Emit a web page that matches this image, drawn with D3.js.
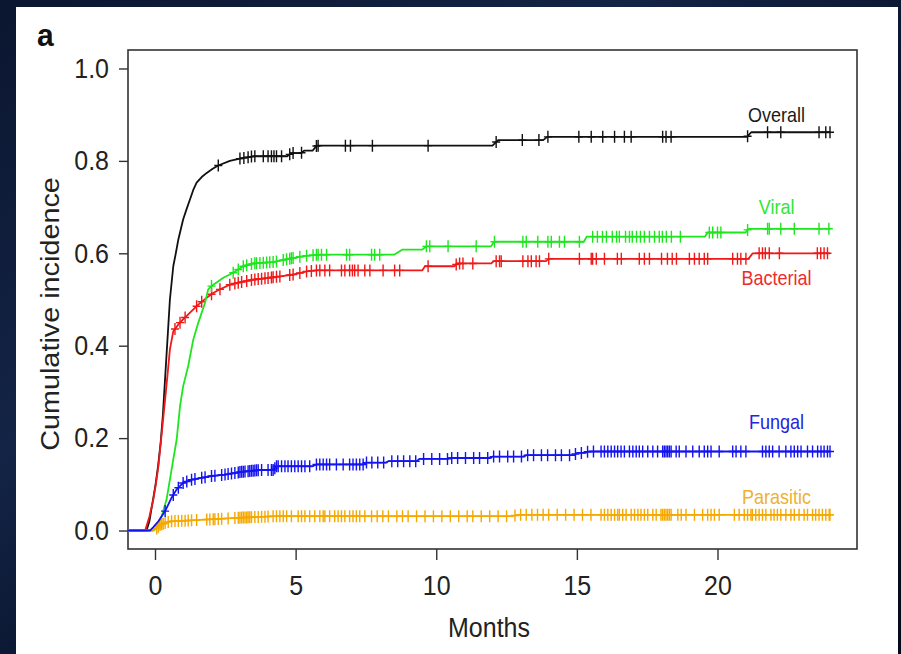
<!DOCTYPE html>
<html>
<head>
<meta charset="utf-8">
<script src="https://cdn.jsdelivr.net/npm/d3@7"></script>
<style>
  html, body { margin: 0; padding: 0; background: #061024; }
  svg { display: block; }
  text { font-family: "Liberation Sans", Arial, Helvetica, sans-serif; }
</style>
</head>
<body>
<svg id="chart" width="901" height="654"></svg>
<script>
// ---- Cumulative incidence by infection type: path vertices [months, cumulative incidence] ----
const seriesNames = ["Overall", "Viral", "Bacterial", "Fungal", "Parasitic"];

const overallCurve = [[-1,0],[-0.3,0],[-0.2,0.02],[-0.07,0.067],[0.02,0.10],[0.11,0.14],[0.2,0.19],[0.28,0.25],[0.37,0.34],[0.46,0.43],[0.53,0.5],[0.65,0.572],[0.74,0.60],[0.83,0.63],[1.0,0.673],[1.12,0.695],[1.24,0.716],[1.36,0.737],[1.48,0.753],[1.66,0.765],[1.84,0.774],[2.05,0.783],[2.25,0.79],[2.66,0.80],[3.02,0.805],[3.5,0.81],[4.7,0.81],[4.85,0.817],[5.2,0.817],[5.3,0.822],[5.6,0.822],[5.75,0.833],[12.0,0.833],[12.2,0.845],[13.8,0.845],[13.95,0.852],[21.05,0.852],[21.2,0.862],[24,0.862]];
const viralCurve = [[-1,0],[-0.05,0],[0.06,0.006],[0.24,0.031],[0.41,0.067],[0.53,0.11],[0.65,0.154],[0.77,0.197],[0.89,0.269],[1.0,0.312],[1.18,0.356],[1.36,0.413],[1.54,0.45],[1.78,0.493],[1.89,0.522],[2.01,0.529],[2.43,0.547],[2.78,0.558],[3.14,0.572],[3.49,0.578],[4.2,0.581],[4.68,0.587],[5.27,0.594],[5.8,0.597],[8.5,0.597],[8.8,0.608],[9.5,0.608],[9.65,0.615],[11.95,0.615],[12.05,0.625],[15.25,0.625],[15.35,0.636],[19.55,0.636],[19.65,0.645],[21.0,0.645],[21.1,0.653],[24,0.653]];
const bacterialCurve = [[-1,0],[-0.35,0],[-0.2,0.03],[-0.06,0.067],[0.03,0.10],[0.12,0.139],[0.24,0.211],[0.36,0.284],[0.45,0.34],[0.53,0.392],[0.65,0.431],[0.83,0.446],[1.0,0.457],[1.3,0.475],[1.54,0.489],[1.8,0.502],[2.07,0.514],[2.31,0.522],[2.66,0.532],[3.08,0.538],[3.49,0.543],[4.08,0.547],[4.91,0.554],[5.4,0.561],[5.74,0.563],[9.5,0.563],[9.6,0.572],[10.65,0.572],[10.75,0.578],[11.95,0.578],[12.05,0.583],[13.9,0.583],[14.0,0.588],[21.1,0.588],[21.25,0.6],[24,0.6]];
const fungalCurve = [[-1,0],[-0.18,0],[-0.05,0.008],[0.12,0.02],[0.36,0.042],[0.59,0.071],[0.77,0.089],[1.0,0.103],[1.3,0.110],[1.66,0.114],[2.01,0.118],[2.49,0.121],[3.08,0.127],[3.73,0.131],[4.2,0.131],[4.32,0.139],[5.6,0.139],[5.74,0.143],[7.4,0.143],[7.5,0.147],[8.2,0.147],[8.3,0.15],[9.3,0.15],[9.4,0.155],[10.4,0.155],[10.5,0.157],[11.9,0.157],[12.0,0.16],[13.1,0.16],[13.2,0.163],[14.9,0.163],[15.0,0.168],[15.3,0.168],[15.4,0.171],[24,0.171]];
const parasiticCurve = [[-1,0],[-0.1,0],[0.05,0.004],[0.2,0.013],[0.55,0.02],[1.3,0.022],[2.25,0.025],[3.1,0.028],[4.3,0.031],[12.7,0.031],[12.9,0.034],[24,0.034]];

// ---- Censoring times (months) ----
const overallCensor = [2.25,3.02,3.16,3.31,3.43,3.55,3.85,4.02,4.14,4.23,4.32,4.50,4.79,4.91,5.21,5.74,5.80,6.77,6.95,7.73,9.71,12.13,13.06,13.65,13.97,15.07,15.51,15.92,16.34,16.69,16.93,18.05,18.17,18.35,21.07,21.78,22.25,23.61,23.85,24.0];
const viralCensor = [2.01,2.78,2.96,3.14,3.26,3.43,3.55,3.61,3.73,3.85,3.97,4.08,4.20,4.32,4.56,4.68,4.79,4.85,4.91,5.15,5.39,5.62,5.74,5.80,5.92,6.10,6.81,6.92,7.70,7.81,7.99,9.65,9.77,10.42,11.42,12.07,13.08,13.20,13.61,13.97,14.09,14.38,14.56,15.09,15.56,15.73,15.91,16.05,16.26,16.41,16.51,16.73,16.87,16.97,17.12,17.26,17.40,17.58,17.76,17.93,18.04,18.18,18.36,18.68,19.71,19.83,20.00,20.12,21.07,21.78,21.84,22.25,22.73,23.61,23.96];
const bacterialCensor = [0.71,0.89,1.07,1.48,1.66,2.01,2.31,2.66,2.84,2.96,3.08,3.26,3.43,3.55,3.67,3.79,3.91,4.02,4.14,4.20,4.32,4.44,4.79,4.91,5.15,5.39,5.56,5.74,5.86,6.04,6.21,6.63,6.75,6.92,7.02,7.10,7.22,7.46,7.64,8.11,8.52,8.70,9.71,10.71,10.83,10.95,11.30,12.13,12.25,12.31,13.08,13.26,13.38,13.55,13.67,14.00,15.09,15.51,15.56,15.69,15.98,16.44,16.58,17.22,17.40,17.58,18.01,18.22,18.39,18.54,19.00,19.18,19.35,19.53,19.65,20.54,20.71,20.83,21.01,21.48,21.60,21.70,21.84,22.20,23.55,23.67,23.79,23.91];
const fungalCensor = [0.36,0.65,0.83,1.0,1.13,1.30,1.42,1.66,1.78,2.01,2.13,2.37,2.49,2.60,2.72,2.84,2.96,3.02,3.08,3.14,3.20,3.31,3.37,3.43,3.49,3.55,3.61,3.67,3.79,4.02,4.14,4.20,4.26,4.32,4.38,4.50,4.62,4.73,4.85,4.97,5.09,5.21,5.33,5.50,5.74,5.86,5.98,6.10,6.21,6.45,6.69,6.92,7.04,7.16,7.28,7.40,7.52,7.71,7.92,8.13,8.42,8.63,8.84,9.06,9.27,9.55,9.84,10.12,10.40,10.55,10.76,11.04,11.33,11.54,11.83,12.04,12.25,12.54,12.75,13.03,13.25,13.46,13.74,13.96,14.24,14.45,14.74,14.95,15.16,15.38,15.59,15.86,15.98,16.10,16.22,16.34,16.45,16.57,16.69,16.87,16.99,17.11,17.22,17.34,17.52,17.70,17.87,18.05,18.11,18.17,18.23,18.29,18.35,18.53,18.64,18.88,19.12,19.35,19.53,19.65,19.77,20.06,20.54,20.66,20.83,21.01,21.60,21.72,21.84,21.96,22.19,22.43,22.61,22.73,22.85,22.97,23.20,23.38,23.56,23.68,23.79,23.91,24.0];
const parasiticCensor = [0.06,0.12,0.18,0.24,0.29,0.36,0.47,0.59,0.71,0.83,0.95,1.07,1.18,1.30,1.48,1.84,1.95,2.07,2.13,2.25,2.37,2.60,2.84,2.96,3.02,3.08,3.14,3.20,3.26,3.31,3.37,3.43,3.55,3.67,3.79,3.91,4.02,4.20,4.32,4.44,4.56,4.68,4.85,5.09,5.21,5.33,5.50,5.68,5.86,5.98,6.04,6.21,6.39,6.51,6.63,6.75,6.92,7.04,7.16,7.28,7.46,7.7,7.9,8.1,8.3,8.6,8.8,9.0,9.3,9.6,9.9,10.2,10.5,10.8,11.1,11.3,11.6,11.9,12.2,12.5,12.8,13.0,13.2,13.4,13.6,13.8,14.0,14.3,14.6,14.9,15.2,15.5,15.86,15.98,16.10,16.22,16.34,16.45,16.51,16.63,16.75,16.93,17.05,17.17,17.28,17.40,17.52,17.70,17.82,17.99,18.05,18.11,18.17,18.23,18.29,18.35,18.59,18.71,18.88,19.18,19.47,19.65,19.77,19.89,20.06,20.60,20.77,20.95,21.07,21.19,21.24,21.36,21.48,21.60,21.72,21.90,22.01,22.13,22.25,22.43,22.61,22.73,22.90,23.08,23.20,23.38,23.49,23.61,23.73,23.85,23.97,24.0];

// ---- Axis ticks ----
const xTicks = [0, 5, 10, 15, 20];
const yTicks = [0.0, 0.2, 0.4, 0.6, 0.8, 1.0];
const yTickLabels = ["0.0", "0.2", "0.4", "0.6", "0.8", "1.0"];
const xTitle = "Months";
const yTitle = "Cumulative incidence";
const panelTag = "a";

// ---- Styling ----
const curves = [overallCurve, viralCurve, bacterialCurve, fungalCurve, parasiticCurve];
const censors = [overallCensor, viralCensor, bacterialCensor, fungalCensor, parasiticCensor];
const lineColor = ["#111111", "#1ee61e", "#f01818", "#1414f0", "#f5a800"];
const textColor = ["#1a1a1a", "#33e633", "#ee2a2a", "#2323e0", "#f0b030"];
const labelTime = 22.1;
const labelOffset = [-10, -15, 32, -23, -11];
const drawOrder = [0, 2, 1, 4, 3];

const svg = d3.select("#chart");
const W = 901, H = 654;

// dark slide backdrop
const defs = svg.append("defs");
const bg = defs.append("linearGradient").attr("id", "bg")
  .attr("x1", "0").attr("y1", "0").attr("x2", "1").attr("y2", "1");
bg.append("stop").attr("offset", "0").attr("stop-color", "#0b1630");
bg.append("stop").attr("offset", "0.35").attr("stop-color", "#142446");
bg.append("stop").attr("offset", "0.6").attr("stop-color", "#07122a");
bg.append("stop").attr("offset", "1").attr("stop-color", "#030a1c");
svg.append("rect").attr("width", W).attr("height", H).attr("fill", "url(#bg)");

// white figure panel
svg.append("rect").attr("x", 16).attr("y", 7).attr("width", 882).attr("height", H - 7).attr("fill", "#ffffff");

const plot = { left: 128, right: 857, top: 50, bottom: 549 };
const x = d3.scaleLinear().domain([-0.96, 24.96]).range([plot.left, plot.right]);
const y = d3.scaleLinear().domain([-0.04, 1.04]).range([plot.bottom, plot.top]);

defs.append("clipPath").attr("id", "clip").append("rect")
  .attr("x", plot.left).attr("y", plot.top)
  .attr("width", plot.right - plot.left).attr("height", plot.bottom - plot.top);

const axisColor = "#333333";
const tickFont = 25, stretch = 1.1;

// x axis
const gx = svg.append("g").attr("transform", `translate(0,${plot.bottom})`)
  .call(d3.axisBottom(x).tickValues(xTicks).tickSize(11).tickPadding(13).tickFormat(d3.format("d")));
gx.select(".domain").remove();
gx.selectAll("line").attr("stroke", axisColor).attr("stroke-width", 1.4);
gx.selectAll("text").attr("font-size", tickFont).attr("fill", "#222")
  .attr("font-family", "Liberation Sans, Arial, sans-serif")
  .attr("transform", `scale(1,${stretch})`);

// y axis
const gy = svg.append("g").attr("transform", `translate(${plot.left},0)`)
  .call(d3.axisLeft(y).tickValues(yTicks).tickSize(9).tickPadding(10)
    .tickFormat((d, i) => yTickLabels[i]));
gy.select(".domain").remove();
gy.selectAll("line").attr("stroke", axisColor).attr("stroke-width", 1.4);
gy.selectAll("text").attr("font-size", tickFont).attr("fill", "#222")
  .attr("font-family", "Liberation Sans, Arial, sans-serif")
  .attr("transform", `scale(1,${stretch})`);

// frame
svg.append("rect")
  .attr("x", plot.left).attr("y", plot.top)
  .attr("width", plot.right - plot.left).attr("height", plot.bottom - plot.top)
  .attr("fill", "none").attr("stroke", axisColor).attr("stroke-width", 1.6);

// axis titles
svg.append("text").attr("transform", `translate(489,637) scale(1,${stretch})`)
  .attr("text-anchor", "middle").attr("font-size", 25).attr("fill", "#222").text(xTitle);
svg.append("text").attr("transform", `translate(59,314) rotate(-90) scale(1.13,1)`)
  .attr("text-anchor", "middle").attr("font-size", 25.5).attr("fill", "#222").text(yTitle);
svg.append("text").attr("transform", `translate(37,46) scale(1,1.05)`)
  .attr("font-size", 30).attr("font-weight", "bold").attr("fill", "#111").text(panelTag);

// curves + censor marks
const line = d3.line().x(d => x(d[0])).y(d => y(d[1])).curve(d3.curveLinear);
const curveAt = curves.map(c => d3.scaleLinear().domain(c.map(d => d[0])).range(c.map(d => d[1])).clamp(true));

const gCurves = svg.append("g").attr("clip-path", "url(#clip)");
drawOrder.forEach(i => {
  const g = gCurves.append("g");
  g.append("path").attr("d", line(curves[i])).attr("fill", "none")
    .attr("stroke", lineColor[i]).attr("stroke-width", 1.8).attr("stroke-linejoin", "round");
  g.selectAll("path.cm").data(censors[i]).join("path").attr("class", "cm")
    .attr("d", t => {
      const cx = x(t), cy = y(curveAt[i](t));
      return `M${cx},${cy - 6}V${cy + 6}M${cx - 4},${cy}H${cx + 4}`;
    })
    .attr("stroke", lineColor[i]).attr("stroke-width", 1.4).attr("fill", "none");
});

// series labels near the right end of each curve
seriesNames.forEach((name, i) => {
  const lx = x(labelTime);
  const ly = y(curveAt[i](labelTime)) + labelOffset[i];
  svg.append("text").attr("transform", `translate(${lx},${ly}) scale(1,1.15)`)
    .attr("text-anchor", "middle").attr("font-size", 18).attr("fill", textColor[i]).text(name);
});
</script>
</body>
</html>
